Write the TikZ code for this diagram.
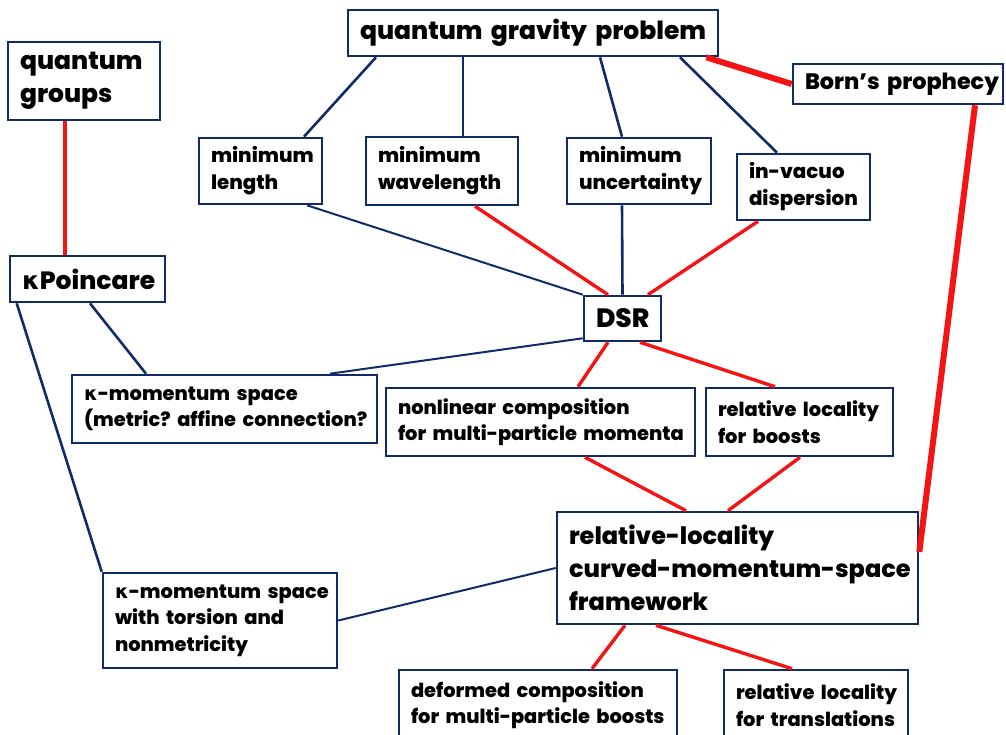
\documentclass[tikz,border=0pt]{standalone}
\usepackage{fontspec}
\setmainfont{Poppins}[BoldFont={Poppins ExtraBold}]
\newfontfamily\kfont{DejaVu Sans}
\usepackage{tikz}
\usetikzlibrary{positioning,calc}
\definecolor{navy}{HTML}{112B68}
\definecolor{hot}{HTML}{F41414}
\newcommand{\kap}{{\kfont\bfseries κ}}
\hyphenpenalty=10000
\exhyphenpenalty=10000
\hfuzz=200pt

\begin{document}
\begin{tikzpicture}[x=1pt, y=-1pt,
    box/.style={draw=navy, line width=2.6pt, fill=white, align=left, inner xsep=12pt, inner ysep=0pt, font=\bfseries},
    fS/.style={font=\bfseries\fontsize{19.8}{27}\selectfont},
    fM/.style={font=\bfseries\fontsize{19.4}{26.5}\selectfont},
    fL/.style={font=\bfseries\fontsize{25}{33}\selectfont},
    blue/.style={draw=navy, line width=2.6pt},
    thin blue/.style={draw=navy, line width=2pt},
    red/.style={draw=hot, line width=3.4pt},
    fat red/.style={draw=hot, line width=6pt}]
    \useasboundingbox (0,0) rectangle (1006,735);

    % Top
    \node[box, font=\bfseries\fontsize{25}{28}\selectfont, text width=346pt, minimum height=46pt] (qgp) at (533,33) {quantum~gravity~problem};
    \node[box, fL, text width=128pt, minimum height=78pt] (qgroups) at (84,81) {quantum\\groups};
    \node[box, font=\bfseries\fontsize{22.3}{26}\selectfont, text width=186pt, minimum height=40pt] (born) at (898,84) {Born’s~prophecy};

    % Motivations
    \node[box, fS, text width=99pt, minimum height=66pt] (minlen) at (260.5,171) {minimum\\length};
    \node[box, fS, text width=128pt, minimum height=68pt] (minwave) at (442,171) {minimum\\wavelength};
    \node[box, fS, text width=120pt, minimum height=66pt] (minunc) at (639,171) {minimum\\uncertainty};
    \node[box, fS, text width=109pt, minimum height=66pt] (invac) at (803.5,187) {in-vacuo\\dispersion};

    % Middle
    \node[box, fL, text width=131pt, minimum height=46pt] (kpoin) at (87.5,279) {\kap Poincare};
    \node[box, font=\bfseries\fontsize{26.5}{30}\selectfont, text width=53pt, minimum height=45pt] (dsr) at (622.5,318.5) {DSR};
    \node[box, fM, text width=281pt, minimum height=68pt] (kmom) at (224.5,409) {\kap-momentum~space\\(metric?~affine~connection?};
    \node[box, fM, text width=285pt, minimum height=68pt] (nonlin) at (540.5,422) {nonlinear~composition\\for~multi-particle~momenta};
    \node[box, fM, text width=163pt, minimum height=68pt] (relboost) at (799.5,422) {relative~locality\\for~boosts};

    % Bottom
    \node[box, font=\bfseries\fontsize{24}{33}\selectfont, text width=337pt, minimum height=112pt] (frame) at (737.5,568) {relative-locality\\curved-momentum-space\\framework};
    \node[box, fM, text width=210pt, minimum height=95pt] (ktors) at (220,620.5) {\kap-momentum~space\\with~torsion~and\\nonmetricity};
    \node[box, fM, text width=254pt, minimum height=70pt] (deformed) at (538,705) {deformed~composition\\for~multi-particle~boosts};
    \node[box, fM, text width=160pt, minimum height=70pt] (trans) at (816,705) {relative~locality\\for~translations};

    % Blue links
    \draw[blue] ([xshift=-157pt]qgp.south) -- ([xshift=43.5pt]minlen.north);
    \draw[blue] ([xshift=-70pt]qgp.south) -- ([xshift=21pt]minwave.north);
    \draw[blue] ([xshift=67pt]qgp.south) -- ([xshift=-17pt]minunc.north);
    \draw[blue] ([xshift=147pt]qgp.south) -- ([xshift=-26.5pt]invac.north);
    \draw[thin blue] ([xshift=46.5pt]minlen.south) -- (dsr.north west);
    \draw[blue] ([xshift=-17pt]minunc.south) -- (dsr.north);
    \draw[blue] ([xshift=2.5pt]kpoin.south) -- ([xshift=-78.5pt]kmom.north);
    \draw[thin blue] ([yshift=4pt]dsr.south west) -- ([xshift=105.5pt]kmom.north);
    \draw[blue] ([xshift=8pt]kpoin.south west) -- (ktors.north west);
    \draw[thin blue] (frame.west) -- (ktors.east);

    % Red links
    \draw[red] ([xshift=-19pt]qgroups.south) -- ([xshift=-22.5pt]kpoin.north);
    \draw[red] ([xshift=33pt]minwave.south) -- ([xshift=-14.5pt]dsr.north);
    \draw[red] ([xshift=-45.5pt]invac.south) -- ([xshift=25.5pt]dsr.north);
    \draw[red] ([xshift=-14.5pt]dsr.south) -- ([xshift=37.5pt]nonlin.north);
    \draw[red] ([xshift=17.5pt]dsr.south) -- ([xshift=-24.5pt]relboost.north);
    \draw[red] ([xshift=44.5pt]nonlin.south) -- ([xshift=-51.5pt]frame.north);
    \draw[red] ([xshift=0.5pt]relboost.south) -- ([xshift=-9.5pt]frame.north);
    \draw[red] ([xshift=-112.5pt]frame.south) -- ([xshift=54pt]deformed.north);
    \draw[red] ([xshift=-81.5pt]frame.south) -- ([xshift=-24pt]trans.north);
    \draw[fat red] ([xshift=-13pt]qgp.south east) -- (born.west);
    \draw[fat red] ([xshift=77pt]born.south) -- ([yshift=16pt]frame.east);
\end{tikzpicture}
\end{document}
